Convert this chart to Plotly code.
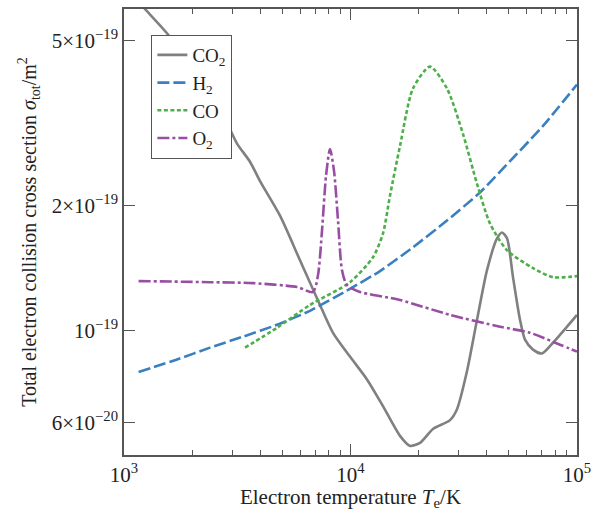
import plotly.graph_objects as go
import numpy as np

# Electron temperature T_e / K and total collision cross sections / m^2
T_co2 = [1160, 1238, 1580, 2165, 2792, 3155, 3600, 3986, 4884, 5984, 7333, 8370, 9949,
         11825, 13913, 16540, 18310, 20270, 23130, 27500, 29530, 32680, 36190, 40060,
         44360, 46660, 49090, 52170, 56020, 58940, 63930, 70070, 78350, 90340, 100000]
s_co2 = [6.23e-19, 5.95e-19, 5.13e-19, 3.98e-19, 3.23e-19, 2.82e-19, 2.55e-19, 2.29e-19,
         1.89e-19, 1.476e-19, 1.152e-19, 0.987e-19, 0.865e-19, 0.762e-19, 0.657e-19,
         0.557e-19, 0.527e-19, 0.536e-19, 0.579e-19, 0.608e-19, 0.646e-19, 0.797e-19,
         1.061e-19, 1.397e-19, 1.667e-19, 1.722e-19, 1.667e-19, 1.344e-19, 1.061e-19,
         0.950e-19, 0.899e-19, 0.880e-19, 0.934e-19, 1.021e-19, 1.090e-19]

T_h2 = [1160, 1714, 2397, 3353, 4738, 6627, 9949, 13500, 18870, 26670, 37300, 52170, 70780, 100000]
s_h2 = [0.794e-19, 0.851e-19, 0.909e-19, 0.966e-19, 1.032e-19, 1.115e-19, 1.260e-19,
        1.390e-19, 1.586e-19, 1.840e-19, 2.150e-19, 2.603e-19, 3.110e-19, 3.913e-19]

T_co = [3421, 4738, 6627, 9949, 12570, 13913, 14940, 16540, 18870, 22440, 26670, 31390,
        36190, 41290, 49090, 63930, 78350, 100000]
s_co = [0.909e-19, 1.015e-19, 1.152e-19, 1.307e-19, 1.501e-19, 1.713e-19, 2.112e-19,
        2.782e-19, 3.828e-19, 4.321e-19, 3.828e-19, 2.972e-19, 2.256e-19, 1.810e-19,
        1.560e-19, 1.413e-19, 1.344e-19, 1.352e-19]

T_o2 = [1160, 2397, 3711, 5805, 6830, 7187, 7486, 7796, 8120, 8457, 8808, 9173, 9650,
        11010, 16540, 27500, 45710, 62000, 84100, 100000]
s_o2 = [1.315e-19, 1.307e-19, 1.300e-19, 1.272e-19, 1.238e-19, 1.359e-19, 1.741e-19,
        2.357e-19, 2.736e-19, 2.424e-19, 1.840e-19, 1.397e-19, 1.286e-19, 1.238e-19,
        1.184e-19, 1.090e-19, 1.021e-19, 0.987e-19, 0.924e-19, 0.889e-19]

y_tickvals = [6e-20, 1e-19, 2e-19, 5e-19]
y_ticktext = ["6×10<sup>−20</sup>", "10<sup>−19</sup>", "2×10<sup>−19</sup>", "5×10<sup>−19</sup>"]
x_tickvals = [1e3, 1e4, 1e5]
x_ticktext = ["10<sup>3</sup>", "10<sup>4</sup>", "10<sup>5</sup>"]
x_minor = [m * 10**e for e in (3, 4) for m in range(2, 10)]

FONT = "Liberation Serif, Times New Roman, serif"
AX = "#555555"

fig = go.Figure()
fig.add_trace(go.Scatter(x=T_co2, y=s_co2, mode="lines", name="CO<sub>2</sub>",
                         line=dict(color="#808080", width=2.6, shape="spline", smoothing=0.7)))
fig.add_trace(go.Scatter(x=T_h2, y=s_h2, mode="lines", name="H<sub>2</sub>",
                         line=dict(color="#3a80c0", width=2.6, dash="12px,4px", shape="spline", smoothing=0.5)))
fig.add_trace(go.Scatter(x=T_co, y=s_co, mode="lines", name="CO",
                         line=dict(color="#4daf4a", width=2.6, dash="4px,2.5px", shape="spline", smoothing=0.7)))
fig.add_trace(go.Scatter(x=T_o2, y=s_o2, mode="lines", name="O<sub>2</sub>",
                         line=dict(color="#984ea3", width=2.6, dash="12px,3px,3px,3px", shape="spline", smoothing=0.7)))

fig.update_layout(
    width=613, height=511,
    margin=dict(l=124, r=36, t=7, b=55),
    paper_bgcolor="white", plot_bgcolor="white",
    font=dict(family=FONT, size=21, color="#222222"),
    legend=dict(x=0.06, y=0.942, xanchor="left", yanchor="top",
                bgcolor="white", bordercolor=AX, borderwidth=1.2,
                font=dict(family=FONT, size=19, color="#222222"),
                entrywidth=62, entrywidthmode="pixels",
                tracegroupgap=0),
    xaxis=dict(type="log", range=[3, 5],
               tickvals=x_tickvals, ticktext=x_ticktext,
               tickfont=dict(family=FONT, size=21),
               ticks="inside", ticklen=11, tickwidth=1.2, tickcolor=AX,
               minor=dict(tickvals=x_minor, ticks="inside", ticklen=5, tickwidth=1.2, tickcolor=AX),
               showline=True, linecolor=AX, linewidth=1.6, mirror="ticks",
               showgrid=False, zeroline=False,
               title=dict(text="Electron temperature <i>T</i><sub>e</sub>/K", standoff=2,
                          font=dict(family=FONT, size=21))),
    yaxis=dict(type="log", range=[np.log10(5.01e-20), np.log10(5.95e-19)],
               tickvals=y_tickvals, ticktext=y_ticktext,
               tickfont=dict(family=FONT, size=21),
               ticks="inside", ticklen=11, tickwidth=1.2, tickcolor=AX,
               showline=True, linecolor=AX, linewidth=1.6, mirror="ticks",
               showgrid=False, zeroline=False,
               title=dict(text="Total electron collision cross section <i>σ</i><sub>tot</sub>/m<sup>2</sup>",
                          standoff=10, font=dict(family=FONT, size=20))),
)

fig.write_html("out.html")
